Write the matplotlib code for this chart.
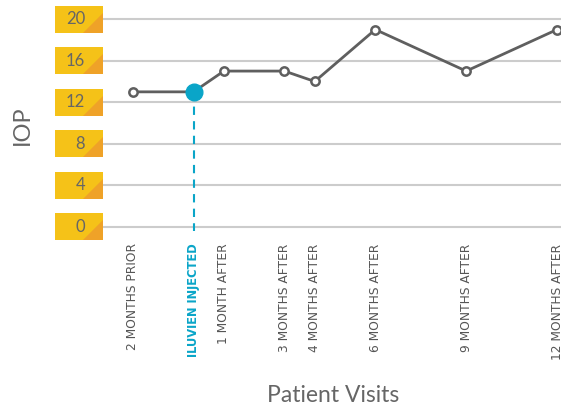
import matplotlib
matplotlib.use("Agg")
import matplotlib.pyplot as plt
from matplotlib.patches import Polygon
from matplotlib.transforms import blended_transform_factory

plt.rcParams['font.family'] = ['Lato', 'DejaVu Sans']

months = [-2, 0, 1, 3, 4, 6, 9, 12]
visit_labels = ["2 MONTHS PRIOR", "ILUVIEN INJECTED", "1 MONTH AFTER", "3 MONTHS AFTER",
                "4 MONTHS AFTER", "6 MONTHS AFTER", "9 MONTHS AFTER", "12 MONTHS AFTER"]
iop = [13, 13, 15, 15, 14, 19, 15, 19]
y_ticks = [0, 4, 8, 12, 16, 20]
inject_index = 1

W, H = 561, 404
fig = plt.figure(figsize=(W / 100, H / 100), dpi=100)
ax = fig.add_axes([103 / W, (H - 231) / H, 1 - 103 / W, (231 - 15) / H])
ax.set_xlim(-2.99, 12.13)
ax.set_ylim(-0.4, 20.4)

for s in ax.spines.values():
    s.set_visible(False)

for t in y_ticks:
    ax.axhline(t, color="#cccccc", lw=1.5, zorder=1)

line_col = "#5f5f5f"
blue = "#0aa5c8"
ax.plot(months, iop, color=line_col, lw=2, zorder=3)
ax.plot(months, iop, 'o', ms=6, mfc="white", mec=line_col, mew=1.8, zorder=4)
ax.plot([months[inject_index], months[inject_index]], [iop[inject_index], -0.4],
        color=blue, lw=1.5, ls=(0, (4, 3)), zorder=2)
ax.plot(months[inject_index], iop[inject_index], 'o', ms=12, color=blue, zorder=5)

ax.set_xticks(months)
ax.set_xticklabels(visit_labels, rotation=90, fontsize=8.8, color="#555555", va="top",
                   family=["DejaVu Sans"])
ax.tick_params(axis='x', length=0, pad=9)
for i, lab in enumerate(ax.get_xticklabels()):
    if i == inject_index:
        lab.set_color(blue)
        lab.set_fontweight("bold")
        lab.set_fontsize(8.3)
ax.set_yticks([])

# yellow label boxes
tr = blended_transform_factory(fig.transFigure, ax.transData)
upp = 20.8 / 216  # data units per pixel
x0, x1 = 55 / W, 103 / W
xt = 83 / W
for t in y_ticks:
    bot = t - 13.5 * upp
    top = t + 13.5 * upp
    ax.add_patch(Polygon([(x0, bot), (x1, bot), (x1, top), (x0, top)], closed=True,
                         facecolor="#f5c218", edgecolor="none", transform=tr, clip_on=False))
    ax.add_patch(Polygon([(xt, bot), (x1, bot), (x1, bot + 20 * upp)], closed=True,
                         facecolor="#efa228", edgecolor="none", transform=tr, clip_on=False))
    ax.text(85 / W, t, str(t), transform=tr, ha="right", va="center",
            fontsize=12, color="#666666")

fig.text(22 / W, 1 - 125 / H, "IOP", rotation=90, ha="center", va="center",
         fontsize=17, color="#666666")
fig.text(333 / W, 1 - 395 / H, "Patient Visits", ha="center", va="center",
         fontsize=16.5, color="#666666")

fig.savefig("out.png", dpi=100)
